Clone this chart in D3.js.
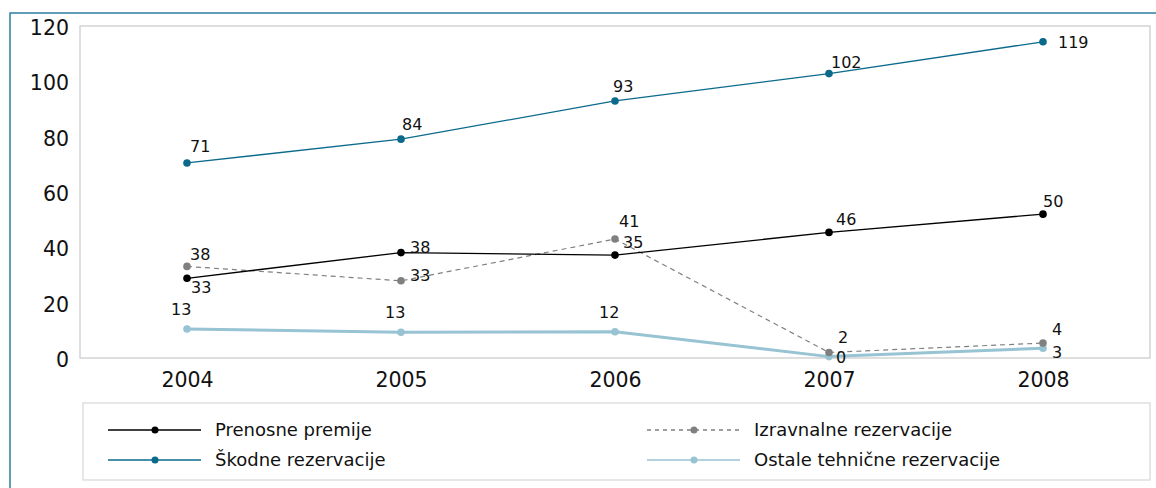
<!DOCTYPE html>
<html>
<head>
<meta charset="utf-8">
<script src="https://cdn.jsdelivr.net/npm/d3@7"></script>
<style>
  body { margin: 0; background: white; }
  text { font-family: "DejaVu Sans", sans-serif; }
</style>
</head>
<body>
<div id="canvas"></div>
<script>
var width = 1156;
var height = 488;

// data
const years = ["2004", "2005", "2006", "2007", "2008"];
const yTicks = [0, 20, 40, 60, 80, 100, 120];

const prenosne = [28.8, 38.1, 37.2, 45.4, 52.0];
const prenosneLabels = ["33", "38", "35", "46", "50"];

const izravnalne = [33.1, 27.9, 43.0, 2.0, 5.4];
const izravnalneLabels = ["38", "33", "41", "2", "4"];

const skodne = [70.5, 79.1, 92.9, 102.8, 114.3];
const skodneLabels = ["71", "84", "93", "102", "119"];

const ostale = [10.5, 9.3, 9.5, 0.5, 3.5];
const ostaleLabels = ["13", "13", "12", "0", "3"];

const seriesNames = ["Prenosne premije", "Izravnalne rezervacije", "Škodne rezervacije", "Ostale tehnične rezervacije"];

var svg = d3.select("#canvas").append("svg")
    .attr("width", width)
    .attr("height", height)
    .style("background-color", "white");

// outer frame
svg.append("rect")
    .attr("x", 10).attr("y", 13)
    .attr("width", width + 10).attr("height", height + 10)
    .attr("fill", "none")
    .attr("stroke", "#2d7fa0")
    .attr("stroke-width", 1.5);

const plot = { left: 80, right: 1150, top: 26, bottom: 358 };

svg.append("rect")
    .attr("x", plot.left).attr("y", plot.top)
    .attr("width", plot.right - plot.left).attr("height", plot.bottom - plot.top)
    .attr("fill", "none")
    .attr("stroke", "#d3d3d3")
    .attr("stroke-width", 1.5);

const x = d3.scalePoint()
    .domain(years)
    .range([plot.left, plot.right])
    .padding(0.5);

const y = d3.scaleLinear()
    .domain([0, 120])
    .range([plot.bottom, plot.top]);

// y axis labels
svg.append("g")
    .attr("transform", "translate(" + plot.left + ",0)")
    .call(d3.axisLeft(y).tickValues(yTicks).tickSize(0).tickPadding(11))
    .call(g => g.select(".domain").remove())
    .selectAll("text")
    .attr("font-family", "DejaVu Sans")
    .attr("font-size", 20.5)
    .attr("fill", "#111")
    .attr("dy", "0.42em");

// x axis labels
svg.append("g")
    .attr("transform", "translate(0," + plot.bottom + ")")
    .call(d3.axisBottom(x).tickSize(0).tickPadding(14))
    .call(g => g.select(".domain").remove())
    .selectAll("text")
    .attr("font-family", "DejaVu Sans")
    .attr("font-size", 20.5)
    .attr("fill", "#111");

// label placements: [dx, dy (baseline)]
const series = [
  { name: seriesNames[0], values: prenosne, labels: prenosneLabels, color: "#000000", width: 1.3, legendWidth: 1.3, dash: null,
    pos: [[4, 15], [9, 0], [8, -7], [7, -7], [0, -7]] },
  { name: seriesNames[1], values: izravnalne, labels: izravnalneLabels, color: "#808080", width: 1.2, legendWidth: 1.5, dash: "5,4",
    pos: [[3, -6], [9, 0], [4, -12], [9, -9], [9, -8]] },
  { name: seriesNames[2], values: skodne, labels: skodneLabels, color: "#0b6a8c", width: 1.3, legendWidth: 1.5, dash: null,
    pos: [[3, -11], [1, -9], [-2, -9], [2, -6], [15, 6]] },
  { name: seriesNames[3], values: ostale, labels: ostaleLabels, color: "#97c3d3", width: 3, legendWidth: 1.5, dash: null,
    pos: [[-16, -14], [-16, -14], [-16, -14], [7, 6], [9, 10]] }
];

const line = d3.line()
    .x((d, i) => x(years[i]))
    .y(d => y(d));

// draw from back to front
const order = [3, 1, 0, 2];
order.forEach(k => {
  const s = series[k];
  svg.append("path")
      .datum(s.values)
      .attr("d", line)
      .attr("fill", "none")
      .attr("stroke", s.color)
      .attr("stroke-width", s.width)
      .attr("stroke-dasharray", s.dash);

  svg.selectAll(".dot" + k)
      .data(s.values)
      .enter().append("circle")
      .attr("cx", (d, i) => x(years[i]))
      .attr("cy", d => y(d))
      .attr("r", 3.8)
      .attr("fill", s.color);
});

series.forEach(s => {
  svg.selectAll(null)
      .data(s.values)
      .enter().append("text")
      .attr("x", (d, i) => x(years[i]) + s.pos[i][0])
      .attr("y", (d, i) => y(d) + s.pos[i][1])
      .attr("font-size", 16)
      .attr("fill", "#111")
      .text((d, i) => s.labels[i]);
});

// legend
svg.append("rect")
    .attr("x", 83).attr("y", 403)
    .attr("width", 1067).attr("height", 77)
    .attr("fill", "none")
    .attr("stroke", "#d8d8d8")
    .attr("stroke-width", 1.2);

const legendPos = [[108, 430], [647, 430], [108, 460], [647, 460]];
series.forEach((s, k) => {
  const p = legendPos[k];
  const g = svg.append("g").attr("transform", "translate(" + p[0] + "," + p[1] + ")");
  g.append("line")
      .attr("x1", 0).attr("x2", 93)
      .attr("stroke", s.color)
      .attr("stroke-width", s.legendWidth)
      .attr("stroke-dasharray", s.dash ? "4,4" : null);
  g.append("circle").attr("cx", 47).attr("r", 3.5).attr("fill", s.color);
  g.append("text")
      .attr("x", 107).attr("dy", "0.35em")
      .attr("font-size", 18)
      .attr("fill", "#111")
      .text(s.name);
});
</script>
</body>
</html>
